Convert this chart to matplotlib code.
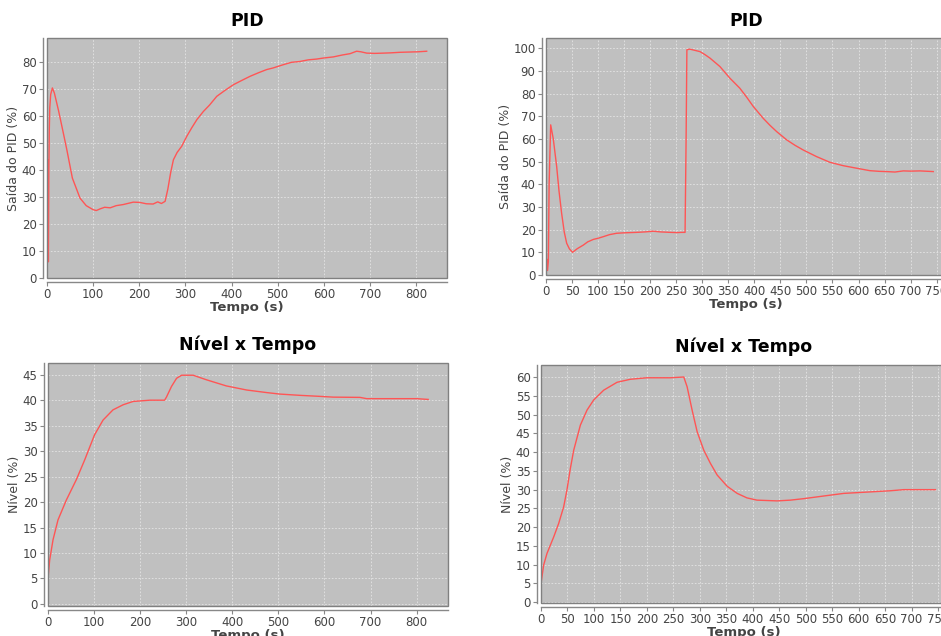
import matplotlib
matplotlib.use("Agg")
import matplotlib.pyplot as plt
from matplotlib.patches import Rectangle

# ---------------- data ----------------
# Top-left: PID output, run 1
pid1_t = [0, 1, 2, 3, 4, 5, 6, 8, 11.6, 16, 25, 35, 43, 55, 71.5, 85, 100, 107, 115, 125,
          137, 150, 165, 187, 201, 215, 230, 240, 248, 256, 262, 268, 274, 282, 292, 303,
          313.6, 325, 339, 352, 368, 385, 404, 420, 440, 458, 476, 490, 512, 530, 548,
          566, 584.5, 600, 620.7, 640, 657, 671, 680, 693, 710, 729, 745, 765, 785, 805, 823]
pid1_v = [0, 44, 30, 6, 40, 55, 63, 68, 70.4, 68.5, 62, 54, 47.5, 37, 29.6, 26.8, 25.3, 25.0, 25.6, 26.2,
          26.0, 26.8, 27.2, 28.1, 28.0, 27.5, 27.4, 28.2, 27.6, 28.4, 33, 39, 43.8, 46.5, 48.8, 52.5,
          55.6, 58.7, 61.7, 64.0, 67.3, 69.4, 71.6, 73.0, 74.7, 76.0, 77.2, 77.8, 79.0, 79.9, 80.2,
          80.8, 81.1, 81.5, 81.9, 82.6, 83.1, 84.0, 83.8, 83.3, 83.2, 83.3, 83.4, 83.6, 83.7, 83.8, 84.0]

# Top-right: PID output, run 2
pid2_t = [0, 1.5, 3, 4.5, 6, 9, 14, 20.5, 25, 30, 35, 39.7, 45, 51, 60, 71.7, 80, 91, 100,
          110, 122, 135.6, 150, 174, 190, 206, 220, 238, 252, 260, 267, 269, 270.5, 276, 285,
          295.6, 305, 315, 334, 353, 372, 385, 398, 417, 430, 443, 462, 478, 494, 519.5, 545,
          570.7, 596, 622, 640, 654, 670, 686, 700, 718, 743.5]
pid2_v = [0, 7, 2, 6, 40, 66.2, 60, 47.8, 37, 27.2, 19, 14, 11.5, 10, 11.6, 13.2, 14.6, 15.7, 16.2,
          16.9, 17.8, 18.4, 18.6, 18.8, 19.0, 19.3, 19.0, 18.8, 18.7, 18.8, 18.8, 60, 99.3, 99.6, 99.1,
          98.5, 97.2, 95.6, 91.9, 86.8, 82.4, 78.5, 74.3, 69.1, 66.0, 63.2, 59.6, 57.2, 55.1, 52.2, 49.7,
          48.2, 47.1, 46.0, 45.7, 45.6, 45.4, 45.9, 45.8, 45.9, 45.6]

# Bottom-left: level, run 1
lvl1_t = [0, 3.6, 10.9, 21.7, 39.8, 61.5, 79.7, 101, 119.5, 141, 163, 184.6, 221, 253, 257,
          268, 279, 290, 315, 344, 387, 431, 474, 503, 547, 590, 619, 677, 691.5, 800, 825]
lvl1_v = [5.0, 8.6, 12.6, 16.5, 20.4, 24.4, 28.3, 33.2, 36.1, 38.1, 39.1, 39.75, 40.0, 40.0, 40.6,
          42.7, 44.3, 44.9, 44.9, 44.0, 42.8, 42.0, 41.5, 41.2, 40.95, 40.75, 40.6, 40.55, 40.3, 40.3, 40.15]

# Bottom-right: level, run 2
lvl2_t = [0, 5, 11.3, 24, 33.4, 42.8, 49, 55.4, 61.8, 74.4, 87, 99.6, 118.5, 143.7, 168.9, 200,
          244.5, 269.7, 276, 285.4, 295, 307.5, 320, 332.7, 351.6, 370.5, 389, 408, 446, 471,
          496.5, 534, 572, 622.5, 660, 685.6, 745]
lvl2_v = [5.0, 9.9, 13.0, 17.4, 21.0, 25.4, 29.9, 35.6, 40.5, 47.2, 51.2, 53.9, 56.5, 58.6, 59.4, 59.8,
          59.8, 60.0, 57.4, 51.2, 45.4, 40.5, 37.0, 33.9, 30.9, 29.0, 27.8, 27.2, 27.0, 27.2,
          27.6, 28.3, 29.0, 29.4, 29.7, 30.0, 30.0]

titles = ["PID", "PID", "Nível x Tempo", "Nível x Tempo"]
ylabels = ["Saída do PID (%)", "Saída do PID (%)", "Nível (%)", "Nível (%)"]
xlabel = "Tempo (s)"

# ---------------- style ----------------
W, H = 941, 636
fig = plt.figure(figsize=(W / 100, H / 100), dpi=100)
fig.patch.set_facecolor("white")

BG = "#c0c0c0"
LINE = "#ff5555"
AX = "#888888"
TXT = "#444444"


def px_axes(l, t, r, b):
    return fig.add_axes([l / W, 1 - b / H, (r - l) / W, (b - t) / H])


specs = [
    # (left, top, right, bottom) px, data, xlim, ylim, xstep, ystep
    ((47, 38, 447, 278), pid1_t, pid1_v, (0, 867), (0, 88.9), 100, 10),
    ((546, 38, 946, 275), pid2_t, pid2_v, (0, 768), (0, 104.5), 50, 10),
    ((48, 363, 448, 606), lvl1_t, lvl1_v, (0, 868), (-0.4, 47.3), 100, 5),
    ((541, 365, 946, 603), lvl2_t, lvl2_v, (0, 765), (-0.2, 63.2), 50, 5),
]

for i, (box, xs, ys, xl, yl, xst, yst) in enumerate(specs):
    ax = px_axes(*box)
    ax.set_facecolor(BG)
    ax.plot(xs, ys, color=LINE, lw=1.0)
    ax.set_xlim(*xl)
    ax.set_ylim(*yl)
    xt = list(range(0, int(xl[1]) + 1, xst))
    yt = list(range(0, int(yl[1]) + 1, yst))
    ax.set_xticks(xt)
    ax.set_yticks(yt)
    ax.grid(True, color="#eeeeee", lw=0.6, ls=(0, (2, 2)), alpha=0.8)
    ax.set_axisbelow(True)
    for s in ["top", "right"]:
        ax.spines[s].set_visible(False)
    for s in ["left", "bottom"]:
        ax.spines[s].set_position(("outward", 3))
        ax.spines[s].set_color(AX)
        ax.spines[s].set_linewidth(1.0)
    ax.add_patch(Rectangle((0, 0), 1, 1, transform=ax.transAxes, fill=False,
                           edgecolor="#808080", lw=1.0, zorder=5, clip_on=False))
    ax.tick_params(axis="both", colors=AX, labelcolor=TXT, labelsize=8.5,
                   length=3, width=0.8, direction="out", pad=1.5)
    ax.set_title(titles[i], fontsize=12.5, fontweight="bold", color="black", pad=9)
    ax.set_ylabel(ylabels[i], fontsize=9, color=TXT, labelpad=1)
    ax.set_xlabel(xlabel, fontsize=9.5, fontweight="bold", color=TXT, labelpad=0)

fig.savefig("out.png", dpi=100, facecolor="white")
